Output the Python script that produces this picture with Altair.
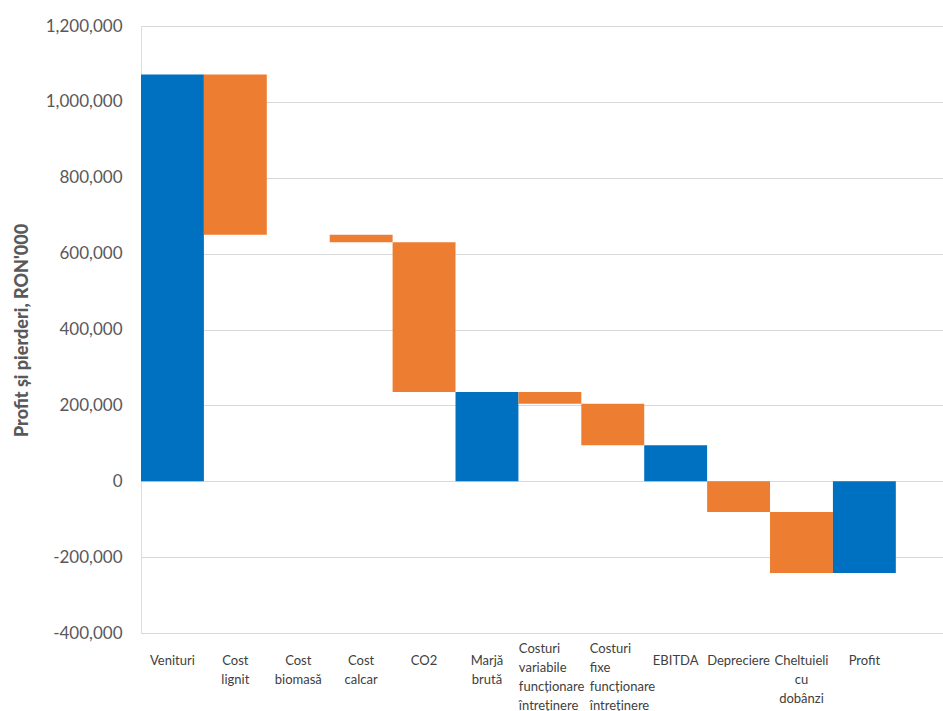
import altair as alt
import pandas as pd

categories = [
    "Venituri", "Cost lignit", "Cost biomasă", "Cost calcar", "CO2", "Marjă brută",
    "Costuri variabile funcționare întreținere", "Costuri fixe funcționare întreținere",
    "EBITDA", "Depreciere", "Cheltuieli cu dobânzi", "Profit",
]
# bottom and top of each floating bar (RON'000)
bar_start = [0, 1072000, 650000, 650000, 630000, 0, 235000, 204000, 0, 0, -81000, 0]
bar_end = [1072000, 650000, 650000, 630000, 235000, 235000, 204000, 95000, 95000, -81000, -242000, -242000]
kinds = ["total", "delta", "delta", "delta", "delta", "total", "delta", "delta", "total", "delta", "delta", "total"]
y_ticks = [-400000, -200000, 0, 200000, 400000, 600000, 800000, 1000000, 1200000]

df = pd.DataFrame({"cat": categories, "start": bar_start, "end": bar_end, "kind": kinds})

long_test = "indexof(datum.value, 'Costuri') == 0"
fixe_test = "indexof(datum.value, 'Costuri fixe') == 0"

bars = alt.Chart(df).mark_bar().encode(
    x=alt.X("cat:N", sort=categories,
            scale=alt.Scale(paddingInner=0, paddingOuter=0.375, align=0),
            axis=alt.Axis(title=None, labelAngle=0, labelExpr="split(datum.label, ' ')",
                          labelAlign={"condition": {"test": long_test, "value": "left"}, "value": "center"},
                          labelOffset={"condition": [{"test": fixe_test, "value": -23},
                                                     {"test": long_test, "value": -31}],
                                       "value": 0},
                          labelBaseline="top",
                          labelPadding={"condition": {"test": long_test, "value": 9}, "value": 21},
                          labelLineHeight=19, labelFont="Lato", labelFontSize=13,
                          labelColor="#404040", ticks=False, domain=False, grid=False,
                          labelOverlap=False, labelLimit=0)),
    y=alt.Y("start:Q", scale=alt.Scale(domain=[-400000, 1200000], nice=False),
            axis=alt.Axis(values=y_ticks,
                          labelExpr="(datum.value < 0 ? '-' : '') + format(abs(datum.value), ',.0f')",
                          title="Profit și pierderi, RON'000",
                          labelFont="Lato", labelFontSize=17, labelColor="#595959",
                          labelPadding=19, ticks=False, domain=False,
                          gridColor="#d9d9d9", gridWidth=1,
                          titleFont="Lato", titleFontSize=18, titleFontWeight=900,
                          titleColor="#595959", titleAngle=-90, titleAlign="center",
                          titleBaseline="middle", titleX=-119, titleY=304)),
    y2="end:Q",
    color=alt.Color("kind:N", scale=alt.Scale(domain=["total", "delta"], range=["#0070C0", "#ED7D31"]),
                    legend=None),
)

chart = bars.properties(
    width=802, height=607,
    autosize=alt.AutoSizeParams(type="none"),
    padding={"left": 141, "top": 26, "right": 0, "bottom": 78},
).configure_view(stroke=None).configure(background="white")

chart.save("out.html", embed_options={"renderer": "svg", "actions": False})
